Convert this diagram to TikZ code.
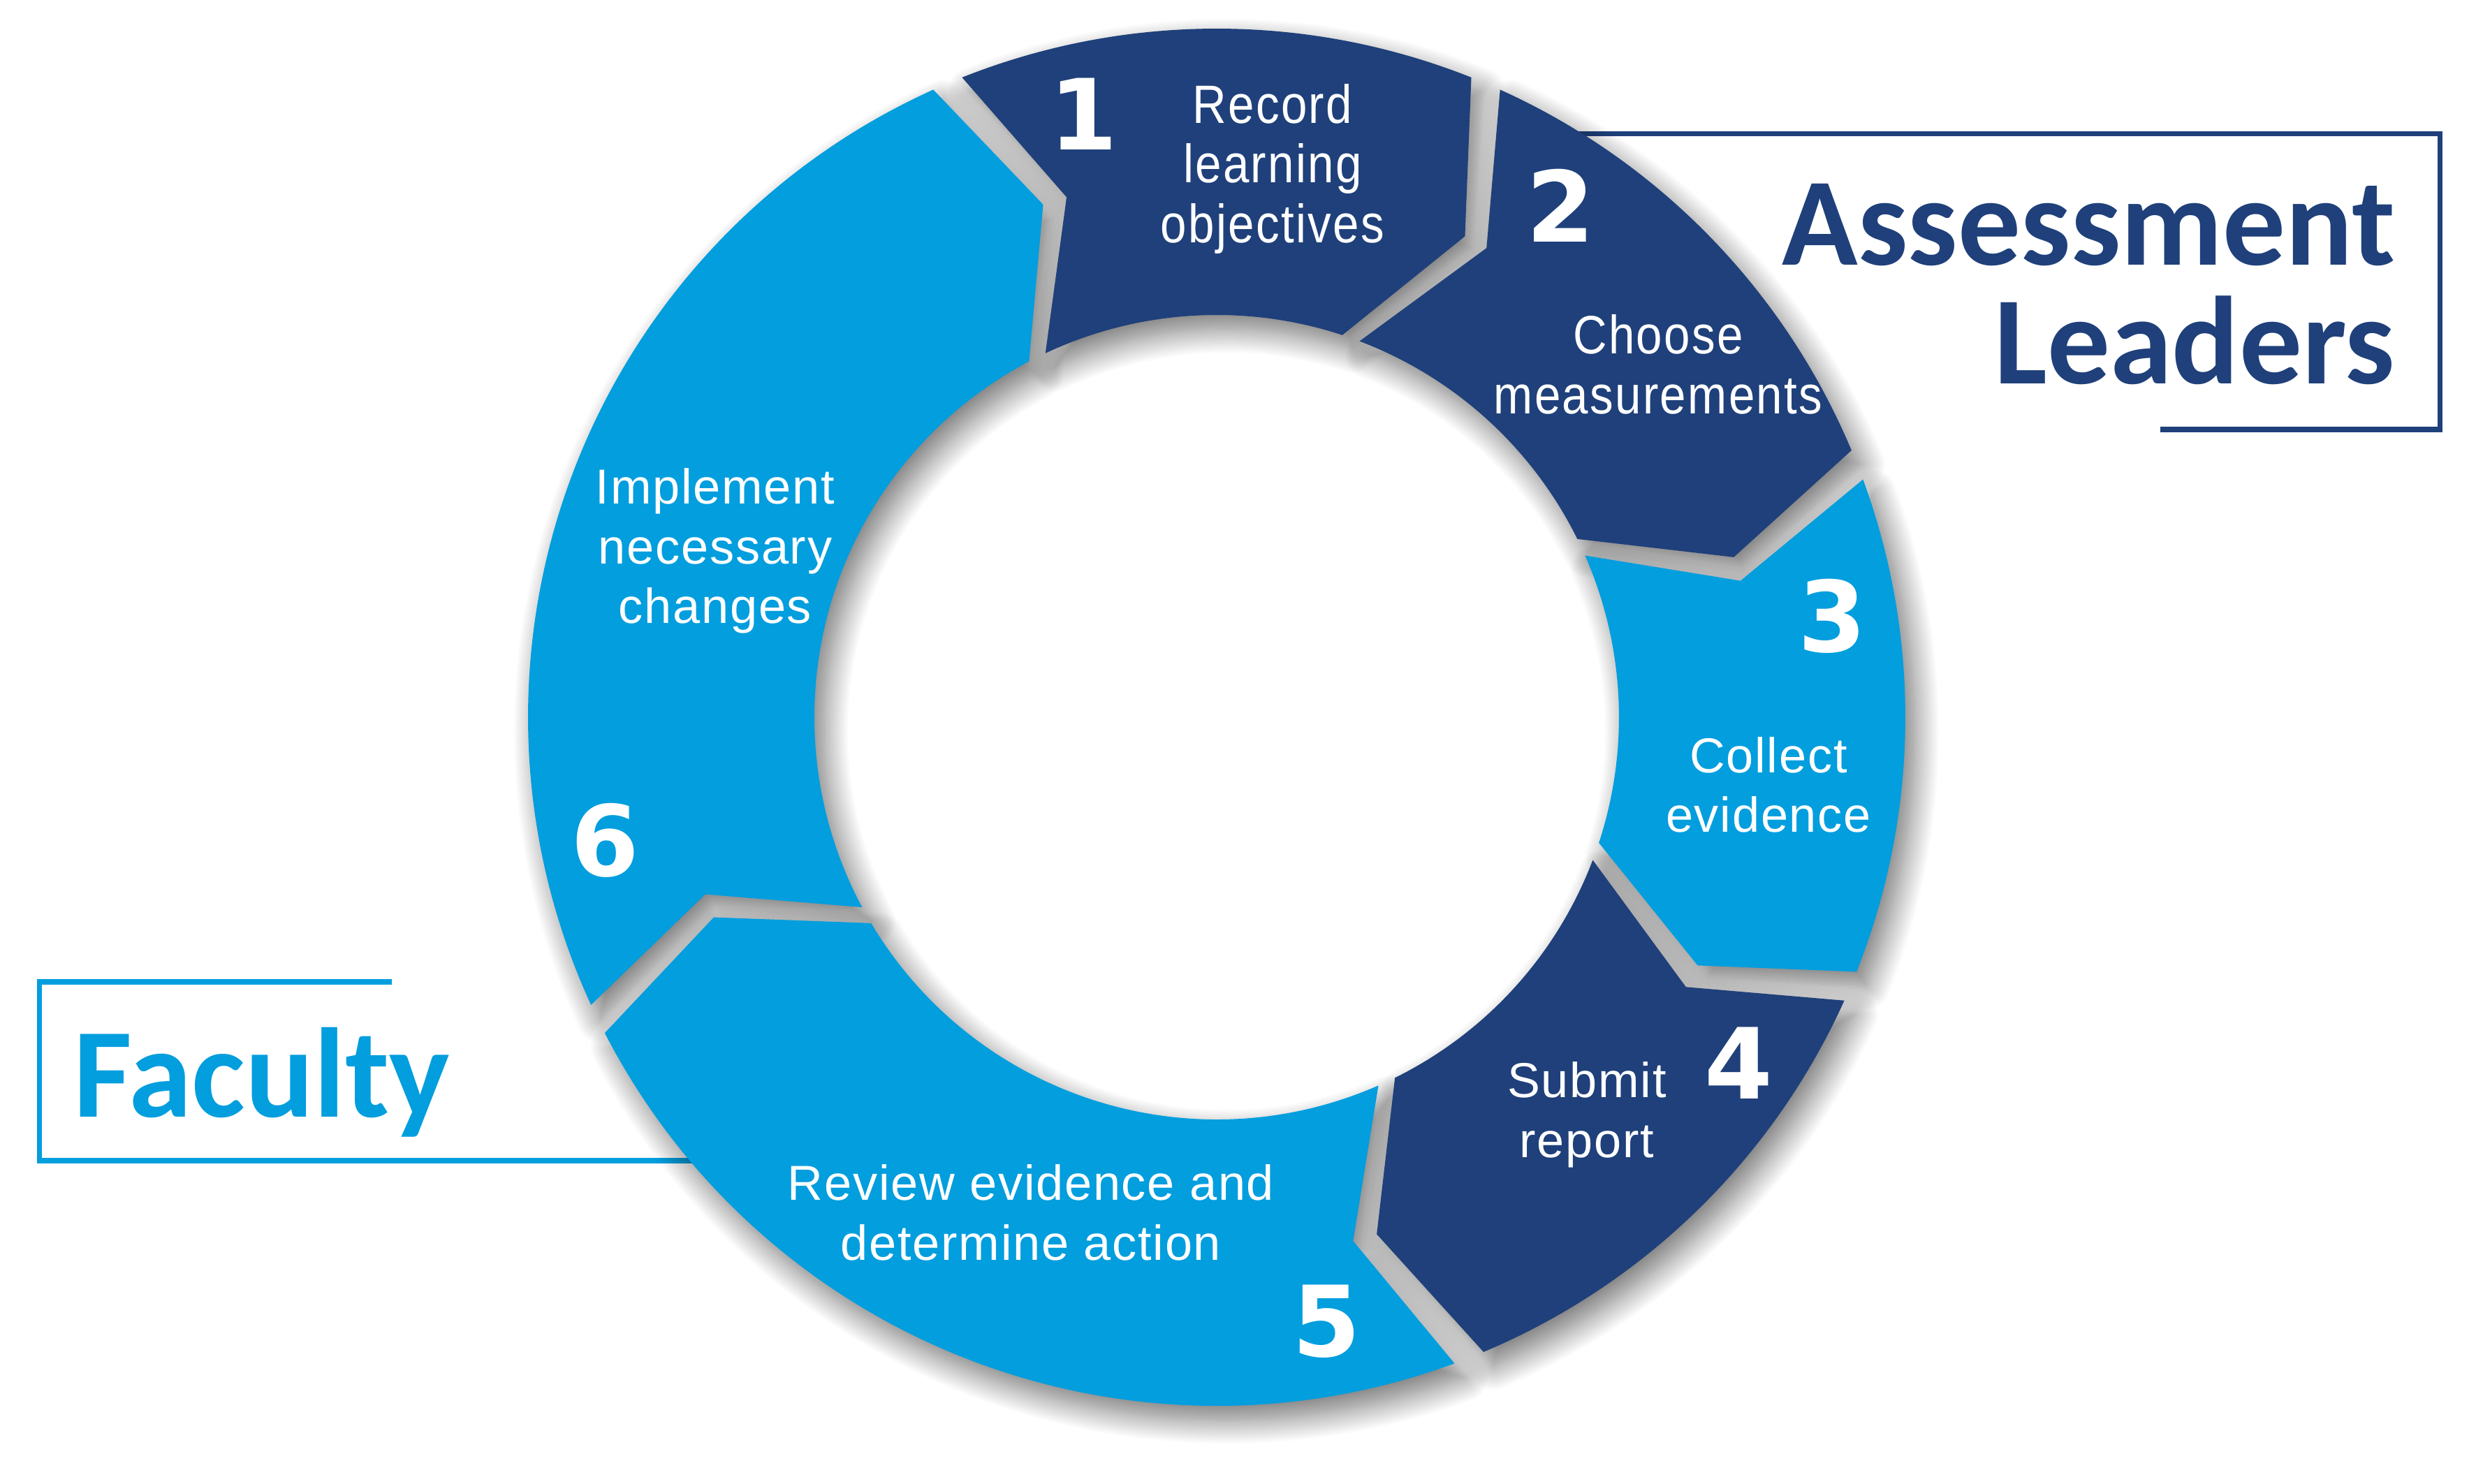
\documentclass[tikz,border=0pt]{standalone}
\usepackage{fontspec}
\setmainfont{Liberation Sans}
\newfontfamily\stepfont[LetterSpace=2.5]{Liberation Sans}
\newfontfamily\narrowfont[FakeStretch=0.87,LetterSpace=3]{Liberation Sans}
\newfontfamily\numfont{DejaVu Sans}
\newfontfamily\titlefont{Carlito}
\usetikzlibrary{shadows.blur}

\definecolor{navy}{RGB}{31,64,122}
\definecolor{sky}{RGB}{2,158,222}

\newcommand{\Rout}{9.86}
\newcommand{\Rmid}{7.75}
\newcommand{\Rin}{5.76}
\newcommand{\gapang}{1.3}
\newcommand{\ringseg}[2]{({#1-\gapang}:\Rout) arc[start angle={#1-\gapang}, end angle={#2+\gapang}, radius=\Rout] -- ({#2+\gapang-5.6}:\Rmid) -- ({#2+\gapang+3.5}:\Rin) arc[start angle={#2+\gapang+3.5}, end angle={#1-\gapang+3.5}, radius=\Rin] -- ({#1-\gapang-5.6}:\Rmid) -- cycle}

\tikzset{
	steplabel/.style={text=white, align=center, inner sep=0pt, font=\stepfont\fontsize{20}{24.4}\selectfont},
	narrowlabel/.style={steplabel, font=\narrowfont\fontsize{22}{24.4}\selectfont},
	stepnum/.style={text=white, inner sep=0pt, font=\numfont\bfseries\fontsize{40}{40}\selectfont},
	grouplabel/.style={inner sep=0pt, font=\titlefont\bfseries\fontsize{51}{48.2}\selectfont},
	groupframe/.style={line width=2pt},
	segshadow/.style={blur shadow={shadow xshift=0.14cm, shadow yshift=-0.2cm, shadow blur radius=0.35cm, shadow blur steps=30, shadow opacity=55}}
}

\begin{document}
\begin{tikzpicture}[line join=miter]
			\useasboundingbox (-17.42,-10.98) rectangle (18.03,10.27);
			\draw[groupframe, navy] (5.1,8.35) -- (17.51,8.35) -- (17.51,4.12) -- (13.51,4.12);
			\draw[groupframe, sky] (-11.81,-3.79) -- (-16.85,-3.79) -- (-16.85,-6.35) -- (-7.3,-6.35);
			\path[segshadow] \ringseg{113}{67};
			\path[segshadow] \ringseg{67}{21.5};
			\path[segshadow] \ringseg{21.5}{-23};
			\path[segshadow] \ringseg{-23}{-68.5};
			\path[segshadow] \ringseg{-68.5}{-154};
			\path[segshadow] \ringseg{206}{113};
			\fill[navy] \ringseg{113}{67};
			\fill[navy] \ringseg{67}{21.5};
			\fill[sky] \ringseg{21.5}{-23};
			\fill[navy] \ringseg{-23}{-68.5};
			\fill[sky] \ringseg{-68.5}{-154};
			\fill[sky] \ringseg{206}{113};
			\node[stepnum] (n1) at (-1.91,8.64) {1};
			\node[stepnum] (n2) at (4.92,7.33) {2};
			\node[stepnum] (n3) at (8.81,1.45) {3};
			\node[stepnum] (n4) at (7.47,-4.95) {4};
			\node[stepnum] (n5) at (1.57,-8.65) {5};
			\node[stepnum] (n6) at (-8.76,-1.76) {6};
			\node[narrowlabel] (s1) at (0.80,7.85) {Record\\learning\\objectives};
			\node[narrowlabel] (s2) at (6.32,5.05) {Choose\\measurements};
			\node[steplabel] (s3) at (7.90,-0.97) {Collect\\evidence};
			\node[steplabel] (s4) at (5.30,-5.69) {Submit\\report};
			\node[steplabel] (s5) at (-2.66,-7.09) {Review evidence and\\determine action};
			\node[steplabel] (s6) at (-7.18,2.38) {Implement\\necessary\\changes};
			\node[grouplabel, navy, align=right, anchor=east] (leaders) at (16.88,6.20) {Assessment\\Leaders};
			\node[grouplabel, sky, anchor=base west, font=\titlefont\bfseries\fontsize{52}{48.2}\selectfont] (faculty) at (-16.37,-5.72) {Faculty};
\end{tikzpicture}
\end{document}
